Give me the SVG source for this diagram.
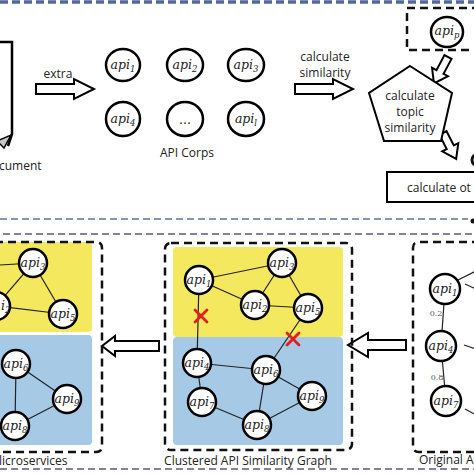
<svg xmlns="http://www.w3.org/2000/svg" width="474" height="474" viewBox="0 0 474 474">
<defs>
<style>
.n{fill:#fff;stroke:#000;stroke-width:2.5}
.lbl{font-family:"DejaVu Serif","Liberation Serif",serif;font-style:italic;font-size:12.5px;fill:#222}
.sub{font-size:8.5px}
.t{font-family:"Open Sans","Liberation Sans",sans-serif;font-size:12px;fill:#222}
.e{stroke:#222;stroke-width:1.2;fill:none}
.arr{fill:#fff;stroke:#000;stroke-width:2}
.box{fill:none;stroke:#111;stroke-width:2.5;stroke-dasharray:8 5}
.x{stroke:#e0201c;stroke-width:2.8;stroke-linecap:round}
.w{font-family:"DejaVu Serif","Liberation Serif",serif;font-size:8px;fill:#555}
</style>
</defs>
<rect width="474" height="474" fill="#fff"/>

<!-- separators -->
<g id="separators" fill="none">
<line x1="0" y1="2" x2="474" y2="2" stroke="#54699a" stroke-width="3.5" stroke-dasharray="8 4"/>
<line x1="0" y1="219" x2="468" y2="219" stroke="#5f7590" stroke-width="1.6" stroke-dasharray="7 4"/>
<circle cx="473" cy="221" r="2.5" fill="#111"/>
<line x1="3" y1="234" x2="474" y2="234" stroke="#5c5a80" stroke-width="1.6" stroke-dasharray="7 4"/>
<line x1="0" y1="469" x2="474" y2="469" stroke="#5c5a80" stroke-width="1.6" stroke-dasharray="7 4"/>
</g>

<!-- document -->
<g id="document">
<path d="M-3,42 H12 V134 L8,146" fill="none" stroke="#000" stroke-width="2.5"/>
<polygon points="-3,141 11,135 4,148" fill="#c8c8c8" stroke="#000" stroke-width="1.5"/>
<text class="t" x="-1" y="170" font-size="13">cument</text>
</g>

<!-- connectors (hollow arrows) -->
<g id="connectors">
<path class="arr" d="M36,84 H74 V79 L94,89 L74,99 V94 H36 Z"/>
<text class="t" x="58" y="78" text-anchor="middle" font-size="12.5">extra</text>
<path class="arr" d="M295,84 H333 V79 L353,89 L333,99 V94 H295 Z"/>
<text class="t" x="325" y="61" text-anchor="middle">calculate</text>
<text class="t" x="325" y="77" text-anchor="middle">similarity</text>
<path class="arr" transform="translate(448,57) rotate(118)" d="M0,-4 H17 V-9 L30,0 L17,9 V4 H0 Z"/>
<path class="arr" transform="translate(443,133) rotate(63)" d="M0,-4 H16 V-9 L29,0 L16,9 V4 H0 Z"/>
<path class="arr" d="M406,340 H368 V333 L348,345 L368,357 V350 H406 Z"/>
<path class="arr" d="M159,341 H115 V336 L102,346 L115,356 V351 H159 Z"/>
</g>

<!-- API corpus -->
<g id="api-corps">
<g id="c1"><ellipse class="n" cx="123" cy="65" rx="17" ry="16"/><text class="lbl" x="123" y="69" text-anchor="middle">api<tspan class="sub" dy="3">1</tspan></text></g>
<g id="c2"><ellipse class="n" cx="185" cy="65" rx="18" ry="16"/><text class="lbl" x="185" y="69" text-anchor="middle">api<tspan class="sub" dy="3">2</tspan></text></g>
<g id="c3"><ellipse class="n" cx="246" cy="65" rx="18" ry="16"/><text class="lbl" x="246" y="69" text-anchor="middle">api<tspan class="sub" dy="3">3</tspan></text></g>
<g id="c4"><ellipse class="n" cx="123" cy="119" rx="17" ry="17"/><text class="lbl" x="123" y="123" text-anchor="middle">api<tspan class="sub" dy="3">4</tspan></text></g>
<g id="c5"><ellipse class="n" cx="185" cy="119" rx="18" ry="17"/><text class="lbl" x="185" y="124" text-anchor="middle" font-style="normal">...</text></g>
<g id="c6"><ellipse class="n" cx="246" cy="119" rx="18" ry="17"/><text class="lbl" x="246" y="123" text-anchor="middle">api<tspan class="sub" dy="3">l</tspan></text></g>
<text class="t" x="187" y="157" text-anchor="middle" font-size="12.5">API Corps</text>
</g>

<!-- api_p -->
<g id="api-p">
<path class="box" d="M480,8 H407 V50 H480"/>
<ellipse class="n" cx="447" cy="32" rx="16" ry="15"/>
<text class="lbl" x="447" y="35" text-anchor="middle">api<tspan class="sub" dy="3">p</tspan></text>
</g>

<!-- pentagon -->
<g id="topic-similarity">
<polygon points="410,66 452,93 441,141 384,141 369,93" fill="#fff" stroke="#000" stroke-width="2"/>
<text class="t" x="410" y="100" text-anchor="middle" font-size="12">calculate</text>
<text class="t" x="410" y="116" text-anchor="middle" font-size="12">topic</text>
<text class="t" x="410" y="132" text-anchor="middle" font-size="12">similarity</text>
</g>

<!-- calculate other box -->
<g id="calc-other">
<rect x="387" y="172" width="100" height="30" fill="#fff" stroke="#000" stroke-width="2"/>
<text class="t" x="407" y="192" font-size="14">calculate ot</text>
<ellipse cx="478" cy="160" rx="6" ry="6" fill="none" stroke="#111" stroke-width="3"/>
</g>

<!-- Original API similarity graph -->
<g id="original-graph">
<path class="box" d="M480,242 H419 Q413,242 413,248 V446 Q413,452 419,452 H480"/>
<line class="e" x1="445" y1="289" x2="441" y2="346"/>
<line class="e" x1="441" y1="346" x2="446" y2="401"/>
<line class="e" x1="458" y1="280" x2="476" y2="271"/>
<line class="e" x1="465" y1="284" x2="476" y2="289"/>
<line class="e" x1="464" y1="345" x2="476" y2="349"/>
<line class="e" x1="465" y1="409" x2="476" y2="415"/>
<text class="w" x="436" y="316" text-anchor="middle">0.2</text>
<text class="w" x="437" y="380" text-anchor="middle">0.8</text>
<g id="o1"><circle class="n" cx="445" cy="289" r="15"/><text class="lbl" x="445" y="293" text-anchor="middle">api<tspan class="sub" dy="3">1</tspan></text></g>
<g id="o4"><circle class="n" cx="441" cy="346" r="15"/><text class="lbl" x="441" y="350" text-anchor="middle">api<tspan class="sub" dy="3">4</tspan></text></g>
<g id="o7"><circle class="n" cx="446" cy="401" r="15"/><text class="lbl" x="446" y="405" text-anchor="middle">api<tspan class="sub" dy="3">7</tspan></text></g>
<text class="t" x="419" y="464" font-size="13">Original A</text>
</g>

<!-- Clustered API similarity graph -->
<g id="clustered-graph">
<rect x="173" y="247" width="170" height="90" rx="4" fill="#f4e85e"/>
<rect x="173" y="337" width="170" height="108" rx="4" fill="#a6c9e6"/>
<rect class="box" x="165" y="243" width="187" height="207" rx="6"/>
<g class="e">
<line x1="199" y1="280" x2="282" y2="263"/>
<line x1="199" y1="280" x2="255" y2="305"/>
<line x1="255" y1="305" x2="282" y2="263"/>
<line x1="282" y1="263" x2="308" y2="308"/>
<line x1="255" y1="305" x2="308" y2="308"/>
<line x1="199" y1="280" x2="197" y2="363"/>
<line x1="308" y1="308" x2="266" y2="370"/>
<line x1="197" y1="363" x2="266" y2="370"/>
<line x1="197" y1="363" x2="202" y2="402"/>
<line x1="266" y1="370" x2="257" y2="425"/>
<line x1="266" y1="370" x2="312" y2="396"/>
<line x1="202" y1="402" x2="257" y2="425"/>
<line x1="257" y1="425" x2="312" y2="396"/>
</g>
<g id="k1"><circle class="n" cx="199" cy="280" r="14"/><text class="lbl" x="199" y="284" text-anchor="middle">api<tspan class="sub" dy="3">1</tspan></text></g>
<g id="k3"><circle class="n" cx="282" cy="263" r="14"/><text class="lbl" x="282" y="267" text-anchor="middle">api<tspan class="sub" dy="3">3</tspan></text></g>
<g id="k2"><circle class="n" cx="255" cy="305" r="14"/><text class="lbl" x="255" y="309" text-anchor="middle">api<tspan class="sub" dy="3">2</tspan></text></g>
<g id="k5"><circle class="n" cx="308" cy="308" r="14"/><text class="lbl" x="308" y="312" text-anchor="middle">api<tspan class="sub" dy="3">5</tspan></text></g>
<g id="k4"><circle class="n" cx="197" cy="363" r="14"/><text class="lbl" x="197" y="367" text-anchor="middle">api<tspan class="sub" dy="3">4</tspan></text></g>
<g id="k6"><circle class="n" cx="266" cy="370" r="14"/><text class="lbl" x="266" y="374" text-anchor="middle">api<tspan class="sub" dy="3">6</tspan></text></g>
<g id="k7"><circle class="n" cx="202" cy="402" r="14"/><text class="lbl" x="202" y="406" text-anchor="middle">api<tspan class="sub" dy="3">7</tspan></text></g>
<g id="k9"><circle class="n" cx="312" cy="396" r="14"/><text class="lbl" x="312" y="400" text-anchor="middle">api<tspan class="sub" dy="3">9</tspan></text></g>
<g id="k8"><circle class="n" cx="257" cy="425" r="14"/><text class="lbl" x="257" y="429" text-anchor="middle">api<tspan class="sub" dy="3">8</tspan></text></g>
<g class="x">
<line x1="195" y1="310" x2="207" y2="322"/><line x1="207" y1="310" x2="195" y2="322"/>
<line x1="287" y1="333" x2="299" y2="345"/><line x1="299" y1="333" x2="287" y2="345"/>
</g>
<text class="t" x="248" y="465" text-anchor="middle" font-size="12">Clustered API Similarity Graph</text>
</g>

<!-- Microservices -->
<g id="microservices">
<rect x="-6" y="242" width="98" height="90" rx="4" fill="#f4e85e"/>
<rect x="-6" y="335" width="98" height="110" rx="4" fill="#a6c9e6"/>
<path class="box" d="M-5,242 H96 Q102,242 102,248 V446 Q102,452 96,452 H-5"/>
<g class="e">
<line x1="0" y1="265" x2="33" y2="263"/>
<line x1="-4" y1="306" x2="33" y2="263"/>
<line x1="-4" y1="306" x2="63" y2="314"/>
<line x1="33" y1="263" x2="63" y2="314"/>
<line x1="16" y1="364" x2="67" y2="399"/>
<line x1="16" y1="364" x2="15" y2="426"/>
<line x1="15" y1="426" x2="67" y2="399"/>
</g>
<g id="m3"><circle class="n" cx="33" cy="263" r="14"/><text class="lbl" x="33" y="267" text-anchor="middle">api<tspan class="sub" dy="3">3</tspan></text></g>
<g id="m2"><circle class="n" cx="-4" cy="306" r="14"/><text class="lbl" x="1" y="310">i<tspan class="sub" dy="3">2</tspan></text></g>
<g id="m5"><circle class="n" cx="63" cy="314" r="14"/><text class="lbl" x="63" y="318" text-anchor="middle">api<tspan class="sub" dy="3">5</tspan></text></g>
<g id="m6"><circle class="n" cx="16" cy="364" r="14"/><text class="lbl" x="16" y="368" text-anchor="middle">api<tspan class="sub" dy="3">6</tspan></text></g>
<g id="m9"><circle class="n" cx="67" cy="399" r="14"/><text class="lbl" x="67" y="403" text-anchor="middle">api<tspan class="sub" dy="3">9</tspan></text></g>
<g id="m8"><circle class="n" cx="15" cy="426" r="14"/><text class="lbl" x="15" y="430" text-anchor="middle">api<tspan class="sub" dy="3">8</tspan></text></g>
<text class="t" x="-1" y="465" font-size="13">licroservices</text>
</g>
</svg>
